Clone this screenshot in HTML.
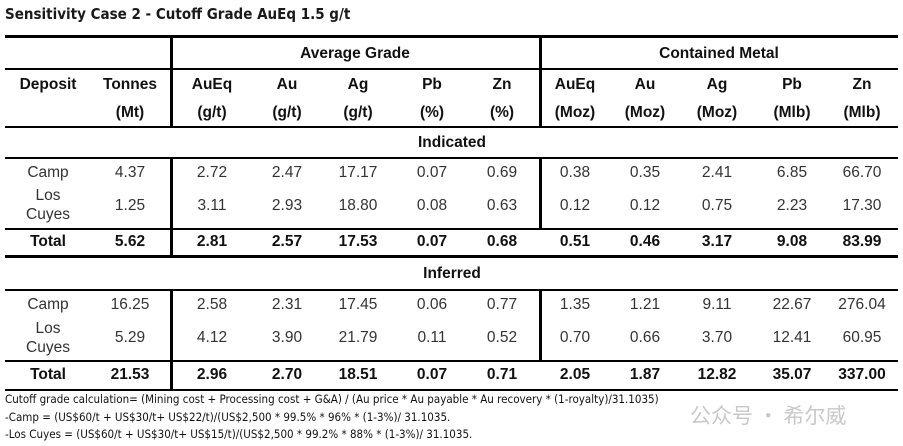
<!DOCTYPE html>
<html><head><meta charset="utf-8"><style>
body{margin:0;width:903px;height:446px;background:#fff;position:relative;overflow:hidden;font-family:"Liberation Sans",Arial,sans-serif;color:#1a1a1a}
.t{position:absolute;width:90px;margin-left:-45px;text-align:center;white-space:nowrap;font-size:15.5px;line-height:18px}
.b{font-weight:bold;color:#111}
.v{color:#333}
.h{position:absolute;left:5px;width:893px;background:#000}
.vl{position:absolute;background:#000;width:2.5px}
.f{position:absolute;left:5px;font-family:"DejaVu Sans Condensed","Liberation Sans Narrow",sans-serif;font-size:11.5px;color:#111;white-space:nowrap}
</style></head><body>
<div style="position:absolute;left:5px;top:5px;font-family:'DejaVu Sans Condensed','Liberation Sans',sans-serif;font-weight:bold;font-size:15px">Sensitivity Case 2 - Cutoff Grade AuEq 1.5 g/t</div>
<div class="h" style="top:35px;height:3px"></div>
<div class="h" style="top:68px;height:1.5px"></div>
<div class="h" style="top:126px;height:1.5px"></div>
<div class="h" style="top:157px;height:1.5px"></div>
<div class="h" style="top:228px;height:2px"></div>
<div class="h" style="top:255px;height:3px"></div>
<div class="h" style="top:289px;height:1.5px"></div>
<div class="h" style="top:360px;height:2px"></div>
<div class="h" style="top:389px;height:2px"></div>
<div class="vl" style="left:170px;top:37px;height:90px"></div>
<div class="vl" style="left:170px;top:157px;height:99px"></div>
<div class="vl" style="left:170px;top:289px;height:101px"></div>
<div class="vl" style="left:539px;top:37px;height:90px"></div>
<div class="vl" style="left:539px;top:157px;height:72px"></div>
<div class="vl" style="left:539px;top:289px;height:72px"></div>

<div class="t b" style="left:355px;top:45px;width:200px;margin-left:-100px">Average Grade</div>
<div class="t b" style="left:719px;top:45px;width:200px;margin-left:-100px">Contained Metal</div>

<div class="t b" style="left:48px;top:76px">Deposit</div>
<div class="t b" style="left:130px;top:76px">Tonnes</div>
<div class="t b" style="left:130px;top:104px">(Mt)</div>
<div class="t b" style="left:212px;top:76px">AuEq</div><div class="t b" style="left:212px;top:104px">(g/t)</div>
<div class="t b" style="left:287px;top:76px">Au</div><div class="t b" style="left:287px;top:104px">(g/t)</div>
<div class="t b" style="left:358px;top:76px">Ag</div><div class="t b" style="left:358px;top:104px">(g/t)</div>
<div class="t b" style="left:432px;top:76px">Pb</div><div class="t b" style="left:432px;top:104px">(%)</div>
<div class="t b" style="left:502px;top:76px">Zn</div><div class="t b" style="left:502px;top:104px">(%)</div>
<div class="t b" style="left:575px;top:76px">AuEq</div><div class="t b" style="left:575px;top:104px">(Moz)</div>
<div class="t b" style="left:645px;top:76px">Au</div><div class="t b" style="left:645px;top:104px">(Moz)</div>
<div class="t b" style="left:717px;top:76px">Ag</div><div class="t b" style="left:717px;top:104px">(Moz)</div>
<div class="t b" style="left:792px;top:76px">Pb</div><div class="t b" style="left:792px;top:104px">(Mlb)</div>
<div class="t b" style="left:862px;top:76px">Zn</div><div class="t b" style="left:862px;top:104px">(Mlb)</div>

<div class="t b" style="left:452px;top:134px">Indicated</div>
<div class="t v" style="left:48px;top:164px">Camp</div>
<div class="t v" style="left:48px;top:187px">Los</div>
<div class="t v" style="left:48px;top:206px">Cuyes</div>
<div class="t v" style="left:130px;top:164px">4.37</div>
<div class="t v" style="left:212px;top:164px">2.72</div><div class="t v" style="left:287px;top:164px">2.47</div><div class="t v" style="left:358px;top:164px">17.17</div><div class="t v" style="left:432px;top:164px">0.07</div><div class="t v" style="left:502px;top:164px">0.69</div><div class="t v" style="left:575px;top:164px">0.38</div><div class="t v" style="left:645px;top:164px">0.35</div><div class="t v" style="left:717px;top:164px">2.41</div><div class="t v" style="left:792px;top:164px">6.85</div><div class="t v" style="left:862px;top:164px">66.70</div>
<div class="t v" style="left:130px;top:197px">1.25</div>
<div class="t v" style="left:212px;top:197px">3.11</div><div class="t v" style="left:287px;top:197px">2.93</div><div class="t v" style="left:358px;top:197px">18.80</div><div class="t v" style="left:432px;top:197px">0.08</div><div class="t v" style="left:502px;top:197px">0.63</div><div class="t v" style="left:575px;top:197px">0.12</div><div class="t v" style="left:645px;top:197px">0.12</div><div class="t v" style="left:717px;top:197px">0.75</div><div class="t v" style="left:792px;top:197px">2.23</div><div class="t v" style="left:862px;top:197px">17.30</div>
<div class="t b" style="left:48px;top:233px">Total</div>
<div class="t b" style="left:130px;top:233px">5.62</div>
<div class="t b" style="left:212px;top:233px">2.81</div><div class="t b" style="left:287px;top:233px">2.57</div><div class="t b" style="left:358px;top:233px">17.53</div><div class="t b" style="left:432px;top:233px">0.07</div><div class="t b" style="left:502px;top:233px">0.68</div><div class="t b" style="left:575px;top:233px">0.51</div><div class="t b" style="left:645px;top:233px">0.46</div><div class="t b" style="left:717px;top:233px">3.17</div><div class="t b" style="left:792px;top:233px">9.08</div><div class="t b" style="left:862px;top:233px">83.99</div>

<div class="t b" style="left:452px;top:265px">Inferred</div>
<div class="t v" style="left:48px;top:296px">Camp</div>
<div class="t v" style="left:48px;top:320px">Los</div>
<div class="t v" style="left:48px;top:339px">Cuyes</div>
<div class="t v" style="left:130px;top:296px">16.25</div>
<div class="t v" style="left:212px;top:296px">2.58</div><div class="t v" style="left:287px;top:296px">2.31</div><div class="t v" style="left:358px;top:296px">17.45</div><div class="t v" style="left:432px;top:296px">0.06</div><div class="t v" style="left:502px;top:296px">0.77</div><div class="t v" style="left:575px;top:296px">1.35</div><div class="t v" style="left:645px;top:296px">1.21</div><div class="t v" style="left:717px;top:296px">9.11</div><div class="t v" style="left:792px;top:296px">22.67</div><div class="t v" style="left:862px;top:296px">276.04</div>
<div class="t v" style="left:130px;top:329px">5.29</div>
<div class="t v" style="left:212px;top:329px">4.12</div><div class="t v" style="left:287px;top:329px">3.90</div><div class="t v" style="left:358px;top:329px">21.79</div><div class="t v" style="left:432px;top:329px">0.11</div><div class="t v" style="left:502px;top:329px">0.52</div><div class="t v" style="left:575px;top:329px">0.70</div><div class="t v" style="left:645px;top:329px">0.66</div><div class="t v" style="left:717px;top:329px">3.70</div><div class="t v" style="left:792px;top:329px">12.41</div><div class="t v" style="left:862px;top:329px">60.95</div>
<div class="t b" style="left:48px;top:366px">Total</div>
<div class="t b" style="left:130px;top:366px">21.53</div>
<div class="t b" style="left:212px;top:366px">2.96</div><div class="t b" style="left:287px;top:366px">2.70</div><div class="t b" style="left:358px;top:366px">18.51</div><div class="t b" style="left:432px;top:366px">0.07</div><div class="t b" style="left:502px;top:366px">0.71</div><div class="t b" style="left:575px;top:366px">2.05</div><div class="t b" style="left:645px;top:366px">1.87</div><div class="t b" style="left:717px;top:366px">12.82</div><div class="t b" style="left:792px;top:366px">35.07</div><div class="t b" style="left:862px;top:366px">337.00</div>

<div class="f" style="top:392px">Cutoff grade calculation= (Mining cost + Processing cost + G&amp;A) / (Au price * Au payable * Au recovery * (1-royalty)/31.1035)</div>
<div class="f" style="top:410px">-Camp = (US$60/t + US$30/t+ US$22/t)/(US$2,500 * 99.5% * 96% * (1-3%)/ 31.1035.</div>
<div class="f" style="top:427px">-Los Cuyes = (US$60/t + US$30/t+ US$15/t)/(US$2,500 * 99.2% * 88% * (1-3%)/ 31.1035.</div>
<div style="position:absolute;left:690px;top:400px;font-family:'Noto Sans CJK SC',sans-serif;font-size:21px;color:#c8c8c8">公众号 · 希尔威</div>
</body></html>
